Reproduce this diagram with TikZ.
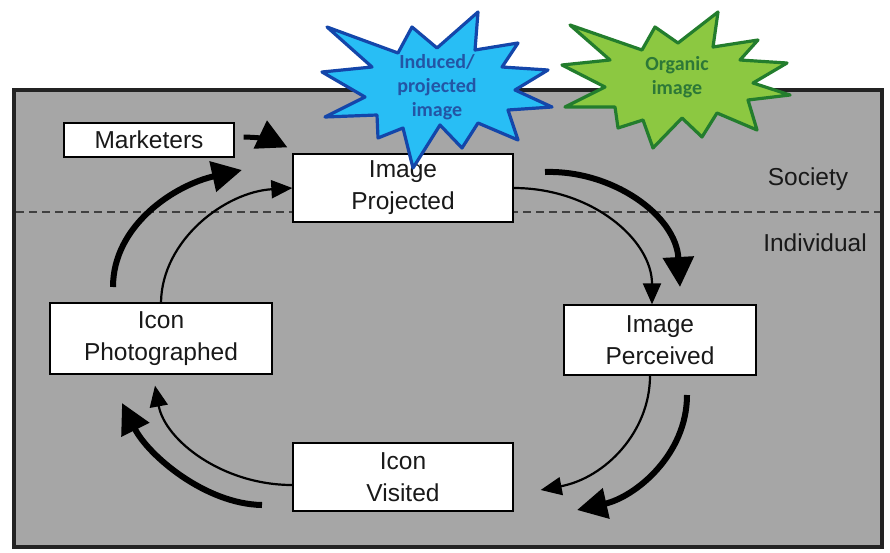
\documentclass[tikz,border=0pt]{standalone}
\usepackage{fontspec}
\setmainfont{Liberation Sans}
\newfontfamily\calib{Carlito}
\usetikzlibrary{arrows.meta}
\definecolor{bgray}{RGB}{166,166,166}
\definecolor{framegray}{RGB}{35,35,35}
\definecolor{starblue}{RGB}{40,190,245}
\definecolor{starblueedge}{RGB}{20,70,170}
\definecolor{startextblue}{RGB}{35,85,165}
\definecolor{stargreen}{RGB}{140,200,65}
\definecolor{stargreenedge}{RGB}{35,125,45}
\definecolor{startextgreen}{RGB}{45,120,55}
\begin{document}
\begin{tikzpicture}[x=1pt,y=-1pt,
  box/.style={draw=black,line width=1.3pt,fill=white,inner sep=0pt,align=center,
    font=\fontsize{24.5}{32}\selectfont,text=black!90},
  lbl/.style={inner sep=0pt,font=\fontsize{24.5}{28}\selectfont,text=black!90},
  thickarr/.style={line width=6pt,-{Triangle[length=30pt,width=30pt]}},
  thinarr/.style={line width=2.2pt,-{Triangle[length=21pt,width=18pt]}},
  bluestar/.style={draw=starblueedge,fill=starblue,line width=3.2pt,line join=round},
  greenstar/.style={draw=stargreenedge,fill=stargreen,line width=3.2pt,line join=round},
  startext/.style={inner sep=0pt,align=center,font=\calib\bfseries\fontsize{20}{24}\selectfont}
]
\useasboundingbox (0,0) rectangle (890,552);
\fill[white] (0,0) rectangle (890,552);

% panel
\draw[framegray,line width=3.5pt,fill=bgray] (14,90) rectangle (882,547);
\draw[black!75,line width=1.3pt,dash pattern=on 8pt off 5pt] (16,212) -- (880,212);

% labels
\node[lbl] (soc) at (808,179) {Society};
\node[lbl] (ind) at (815,243) {Individual};

% boxes
\node[box,minimum width=170pt,minimum height=34pt] (mk) at (149,140) {Marketers};
\node[box,minimum width=220pt,minimum height=68pt] (ip) at (403,188) {Image\\Projected};
\node[box,minimum width=222pt,minimum height=71pt] (iph) at (161,338.5) {Icon\\Photographed};
\node[box,minimum width=192pt,minimum height=70pt] (ipe) at (660,340) {Image\\Perceived};
\node[box,minimum width=220pt,minimum height=68pt] (iv) at (403,477) {Icon\\Visited};

% free ends of the thick arrows
\coordinate (a1s) at (113,287);
\coordinate (a1e) at (242,170);
\coordinate (a2s) at (545,172);
\coordinate (a2e) at (680,287);
\coordinate (a3s) at (687,395);
\coordinate (a3e) at (577,510);
\coordinate (a4s) at (262,505);
\coordinate (a4e) at (122,403);

% Marketers -> Image Projected
\draw[thickarr,line width=5pt] ([xshift=9pt,yshift=3pt]mk.east) to[bend left=12] ([xshift=-5pt,yshift=6pt]ip.north west);

% thick arrows
\draw[thickarr] (a1s) .. controls (113,225) and (175,185) .. (a1e);
\draw[thickarr] (a2s) .. controls (612,170) and (676,215) .. (a2e);
\draw[thickarr] (a3s) .. controls (687,455) and (635,497) .. (a3e);
\draw[thickarr] (a4s) .. controls (205,504) and (148,455) .. (a4e);

% thin arrows
\draw[thinarr] (iph.north) .. controls (162,240) and (225,192) .. (ip.west);
\draw[thinarr] (ip.east) .. controls (592,188) and (652,240) .. ([xshift=-8pt]ipe.north);
\draw[thinarr] ([xshift=-10pt]ipe.south) .. controls (650,432) and (605,478) .. ([xshift=27pt,yshift=-13pt]iv.east);
\draw[thinarr] ([yshift=-8pt]iv.west) .. controls (222,485) and (165,440) .. ([xshift=-6pt,yshift=-11pt]iph.south);

% starbursts
\draw[bluestar] (327,27) -- (398,53) -- (412,27) -- (437,48) -- (478,12) -- (475,50)
  -- (518,43) -- (502,67) -- (548,70) -- (515,90) -- (552,107) -- (508,110)
  -- (518,140) -- (478,123) -- (462,148) -- (440,125) -- (413,168) -- (403,128)
  -- (378,138) -- (377,115) -- (325,117) -- (365,97) -- (322,72) -- (372,67) -- cycle;
\node[startext,text=startextblue] (bt) at (437,87) {Induced/\\projected\\image};

\draw[greenstar] (570,25) -- (642,50) -- (655,27) -- (678,43) -- (718,12) -- (713,47)
  -- (758,40) -- (740,60) -- (787,63) -- (753,83) -- (790,95) -- (748,100)
  -- (757,130) -- (717,113) -- (702,137) -- (682,118) -- (653,148) -- (643,120)
  -- (618,128) -- (615,107) -- (565,107) -- (605,87) -- (562,65) -- (610,60) -- cycle;
\node[startext,text=startextgreen] (gt) at (677,77) {Organic\\image};
\end{tikzpicture}
\end{document}
